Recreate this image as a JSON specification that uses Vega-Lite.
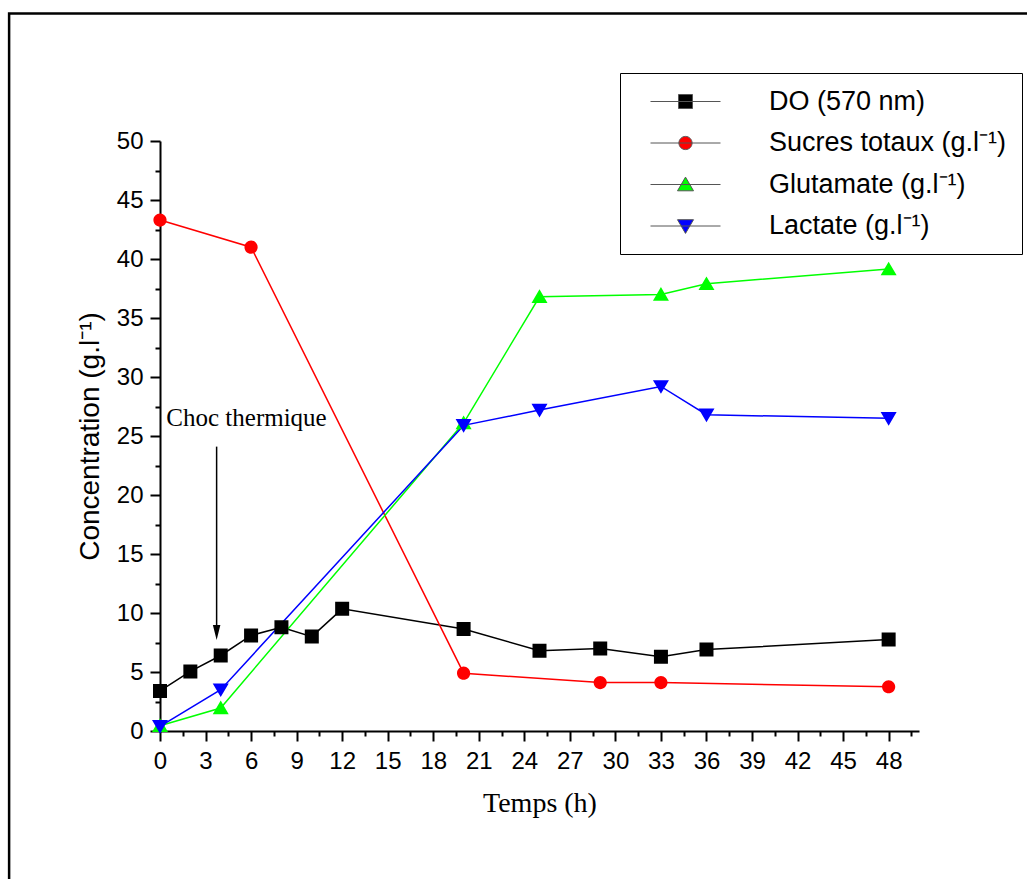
{
  "$schema": "https://vega.github.io/schema/vega-lite/v6.json",
  "width": 759,
  "height": 590,
  "autosize": {"type": "none"},
  "padding": {"left": 160, "top": 141, "right": 108, "bottom": 148},
  "background": "white",
  "config": {"view": {"stroke": null}, "axis": {"grid": false}},
  "datasets": {
    "measures": [
      {"series": "DO (570 nm)", "t": 0, "c": 3.4},
      {"series": "DO (570 nm)", "t": 2, "c": 5.05},
      {"series": "DO (570 nm)", "t": 4, "c": 6.4},
      {"series": "DO (570 nm)", "t": 6, "c": 8.1},
      {"series": "DO (570 nm)", "t": 8, "c": 8.8},
      {"series": "DO (570 nm)", "t": 10, "c": 8.0},
      {"series": "DO (570 nm)", "t": 12, "c": 10.35},
      {"series": "DO (570 nm)", "t": 20, "c": 8.65},
      {"series": "DO (570 nm)", "t": 25, "c": 6.8},
      {"series": "DO (570 nm)", "t": 29, "c": 7.0},
      {"series": "DO (570 nm)", "t": 33, "c": 6.3},
      {"series": "DO (570 nm)", "t": 36, "c": 6.9},
      {"series": "DO (570 nm)", "t": 48, "c": 7.75},
      {"series": "Sucres totaux (g.l⁻¹)", "t": 0, "c": 43.3},
      {"series": "Sucres totaux (g.l⁻¹)", "t": 6, "c": 41.0},
      {"series": "Sucres totaux (g.l⁻¹)", "t": 20, "c": 4.9},
      {"series": "Sucres totaux (g.l⁻¹)", "t": 29, "c": 4.1},
      {"series": "Sucres totaux (g.l⁻¹)", "t": 33, "c": 4.1},
      {"series": "Sucres totaux (g.l⁻¹)", "t": 48, "c": 3.75},
      {"series": "Glutamate (g.l⁻¹)", "t": 0, "c": 0.45},
      {"series": "Glutamate (g.l⁻¹)", "t": 4, "c": 1.95},
      {"series": "Glutamate (g.l⁻¹)", "t": 20, "c": 26.1},
      {"series": "Glutamate (g.l⁻¹)", "t": 25, "c": 36.8},
      {"series": "Glutamate (g.l⁻¹)", "t": 33, "c": 37.0},
      {"series": "Glutamate (g.l⁻¹)", "t": 36, "c": 37.9},
      {"series": "Glutamate (g.l⁻¹)", "t": 48, "c": 39.15},
      {"series": "Lactate (g.l⁻¹)", "t": 0, "c": 0.4},
      {"series": "Lactate (g.l⁻¹)", "t": 4, "c": 3.5},
      {"series": "Lactate (g.l⁻¹)", "t": 20, "c": 25.9},
      {"series": "Lactate (g.l⁻¹)", "t": 25, "c": 27.2},
      {"series": "Lactate (g.l⁻¹)", "t": 33, "c": 29.2},
      {"series": "Lactate (g.l⁻¹)", "t": 36, "c": 26.8},
      {"series": "Lactate (g.l⁻¹)", "t": 48, "c": 26.5}
    ],
    "annotation": [
      {"event": "Choc thermique", "t": 3.73, "textT": 5.7, "textC": 26.5, "arrowTop": 24.1, "arrowHead": 8.34}
    ]
  },
  "layer": [
    {
      "data": {"values": [{}]},
      "mark": {"type": "rect", "filled": false, "stroke": "black", "strokeWidth": 2.5},
      "encoding": {
        "x": {"datum": -9.94, "type": "quantitative", "scale": {"domain": [0, 50], "nice": false}, "axis": null},
        "x2": {"datum": 60},
        "y": {"datum": 60.8, "type": "quantitative", "scale": {"domain": [0, 50], "nice": false}, "axis": null},
        "y2": {"datum": -15}
      }
    },
    {
      "data": {"name": "measures"},
      "mark": {"type": "line", "strokeWidth": 1.5},
      "encoding": {
        "x": {"field": "t", "type": "quantitative", "scale": {"domain": [0, 50], "nice": false},
          "axis": {"orient": "bottom", "values": [1.5, 4.5, 7.5, 10.5, 13.5, 16.5, 19.5, 22.5, 25.5, 28.5, 31.5, 34.5, 37.5, 40.5, 43.5, 46.5, 49.5],
            "labels": false, "domain": false, "tickSize": 5, "tickWidth": 2, "tickColor": "black", "title": null, "grid": false}},
        "y": {"field": "c", "type": "quantitative", "scale": {"domain": [0, 50], "nice": false},
          "axis": {"orient": "left", "values": [2.5, 7.5, 12.5, 17.5, 22.5, 27.5, 32.5, 37.5, 42.5, 47.5],
            "labels": false, "domain": false, "tickSize": 5, "tickWidth": 2, "tickColor": "black", "title": null, "grid": false}},
        "stroke": {"field": "series", "type": "nominal", "legend": null,
          "scale": {"domain": ["Sucres totaux (g.l⁻¹)", "DO (570 nm)", "Glutamate (g.l⁻¹)", "Lactate (g.l⁻¹)"], "range": ["#ff0000", "#000000", "#00ff00", "#0000ff"]}},
        "detail": {"field": "series"}
      }
    },
    {
      "data": {"name": "measures"},
      "mark": {"type": "point", "filled": true, "opacity": 1, "size": 400, "strokeWidth": 0},
      "encoding": {
        "x": {"field": "t", "type": "quantitative", "scale": {"domain": [0, 50], "nice": false},
          "axis": {"orient": "bottom", "values": [0, 3, 6, 9, 12, 15, 18, 21, 24, 27, 30, 33, 36, 39, 42, 45, 48],
            "title": "Temps (h)", "titleFont": "Liberation Serif", "titleFontSize": 28, "titleFontWeight": "normal", "titleColor": "black", "titlePadding": 16,
            "labelFont": "Liberation Sans", "labelFontSize": 24, "labelColor": "black", "labelPadding": 8, "labelFlush": false, "labelOverlap": false,
            "tickSize": 10, "tickWidth": 2, "tickColor": "black", "domainColor": "black", "domainWidth": 2, "grid": false}},
        "y": {"field": "c", "type": "quantitative", "scale": {"domain": [0, 50], "nice": false},
          "axis": {"orient": "left", "values": [0, 5, 10, 15, 20, 25, 30, 35, 40, 45, 50],
            "title": "Concentration (g.l⁻¹)", "titleFont": "Liberation Sans", "titleFontSize": 28, "titleFontWeight": "normal", "titleColor": "black", "titlePadding": 12,
            "labelFont": "Liberation Sans", "labelFontSize": 24, "labelColor": "black", "labelPadding": 7, "labelFlush": false, "labelOverlap": false,
            "tickSize": 10, "tickWidth": 2, "tickColor": "black", "domainColor": "black", "domainWidth": 2, "grid": false}},
        "color": {"field": "series", "type": "nominal",
          "scale": {"domain": ["DO (570 nm)", "Sucres totaux (g.l⁻¹)", "Glutamate (g.l⁻¹)", "Lactate (g.l⁻¹)"], "range": ["#000000", "#ff0000", "#00ff00", "#0000ff"]},
          "legend": {"orient": "none", "legendX": 460, "legendY": -68, "title": null, "padding": 15, "rowPadding": 13.5, "labelOffset": 70, "symbolOffset": 37,
            "labelFont": "Liberation Sans", "labelFontSize": 27, "labelColor": "black", "labelLimit": 400,
            "symbolSize": 400, "symbolStrokeWidth": 1, "symbolStrokeColor": "#555555", "strokeColor": "black", "fillColor": "white"}},
        "shape": {"field": "series", "type": "nominal",
          "scale": {"domain": ["DO (570 nm)", "Sucres totaux (g.l⁻¹)", "Glutamate (g.l⁻¹)", "Lactate (g.l⁻¹)"],
            "range": ["M-4.7,0M-3.5,0H3.5M-0.7,-0.7H0.7V0.7H-0.7Z", "M-4.7,0M-3.5,0H3.5M-0.66,0A0.66,0.66,0,1,1,0.66,0A0.66,0.66,0,1,1,-0.66,0Z", "M-4.7,0M-3.5,0H3.5M0,-0.74L0.8,0.63L-0.8,0.63Z", "M-4.7,0M-3.5,0H3.5M0,0.74L0.8,-0.63L-0.8,-0.63Z"]}}
      }
    },
    {
      "data": {"name": "annotation"},
      "mark": {"type": "text", "font": "Liberation Serif", "fontSize": 25, "color": "black", "align": "center", "baseline": "middle"},
      "encoding": {
        "x": {"field": "textT", "type": "quantitative", "scale": {"domain": [0, 50], "nice": false}, "axis": null},
        "y": {"field": "textC", "type": "quantitative", "scale": {"domain": [0, 50], "nice": false}, "axis": null},
        "text": {"field": "event"}
      }
    },
    {
      "data": {"name": "annotation"},
      "mark": {"type": "rule", "color": "black", "strokeWidth": 1.5},
      "encoding": {
        "x": {"field": "t", "type": "quantitative", "scale": {"domain": [0, 50], "nice": false}, "axis": null},
        "y": {"field": "arrowTop", "type": "quantitative", "scale": {"domain": [0, 50], "nice": false}, "axis": null},
        "y2": {"field": "arrowHead"}
      }
    },
    {
      "data": {"name": "annotation"},
      "mark": {"type": "point", "filled": true, "color": "black", "opacity": 1, "size": 225, "shape": "M-0.5,-1L0.5,-1L0,1Z", "strokeWidth": 0},
      "encoding": {
        "x": {"field": "t", "type": "quantitative", "scale": {"domain": [0, 50], "nice": false}, "axis": null},
        "y": {"field": "arrowHead", "type": "quantitative", "scale": {"domain": [0, 50], "nice": false}, "axis": null}
      }
    }
  ],
  "resolve": {"axis": {"x": "independent", "y": "independent"}}
}
